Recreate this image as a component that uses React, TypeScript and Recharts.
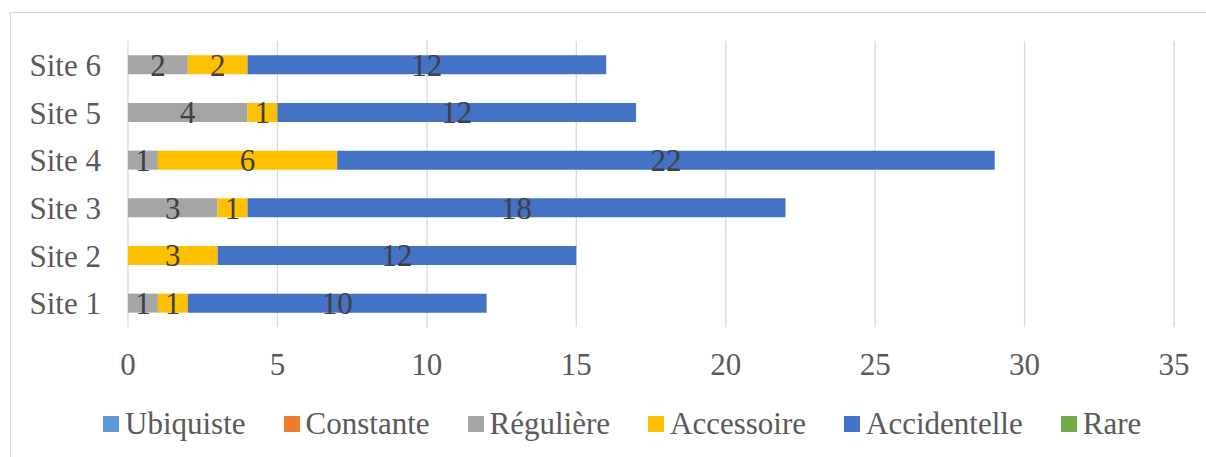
import React from 'react';
import { BarChart, Bar, XAxis, YAxis, CartesianGrid, LabelList } from 'recharts';

// Number of species per frequency class, by site
const sites = ['Site 1', 'Site 2', 'Site 3', 'Site 4', 'Site 5', 'Site 6'];
const ubiquiste = [0, 0, 0, 0, 0, 0];
const constante = [0, 0, 0, 0, 0, 0];
const reguliere = [1, 0, 3, 1, 4, 2];
const accessoire = [1, 3, 1, 6, 1, 2];
const accidentelle = [10, 12, 18, 22, 12, 12];
const rare = [0, 0, 0, 0, 0, 0];

const xTicks = [0, 5, 10, 15, 20, 25, 30, 35];

const series = [
  { key: 'ubiquiste', name: 'Ubiquiste', color: '#5B9BD5', values: ubiquiste },
  { key: 'constante', name: 'Constante', color: '#ED7D31', values: constante },
  { key: 'reguliere', name: 'Régulière', color: '#A5A5A5', values: reguliere },
  { key: 'accessoire', name: 'Accessoire', color: '#FFC000', values: accessoire },
  { key: 'accidentelle', name: 'Accidentelle', color: '#4472C4', values: accidentelle },
  { key: 'rare', name: 'Rare', color: '#70AD47', values: rare },
];

const data = sites.map((site, i) => {
  const row: Record<string, string | number> = { site };
  series.forEach((s) => {
    row[s.key] = s.values[i];
  });
  return row;
});

const FONT = '"Liberation Serif", "Times New Roman", serif';
const AXIS_COLOR = '#595959';
const LABEL_COLOR = '#404040';
const GRID_COLOR = '#D9D9D9';

const hideZero = (v: any) => (v ? v : '');

export default function App() {
  return (
    <div
      style={{
        position: 'absolute',
        left: 0,
        top: 0,
        width: 1206,
        height: 457,
        overflow: 'hidden',
        background: '#fff',
      }}
    >
      <div
        style={{
          position: 'absolute',
          left: 10,
          top: 12,
          width: 1300,
          height: 600,
          border: `1px solid ${GRID_COLOR}`,
          boxSizing: 'border-box',
        }}
      />
      <div style={{ position: 'absolute', left: 0, top: 0 }}>
        <BarChart
          width={1206}
          height={457}
          data={data}
          layout="vertical"
          margin={{ top: 41, right: 32, left: 0, bottom: 90 }}
          barCategoryGap="30%"
        >
          <CartesianGrid horizontal={false} stroke={GRID_COLOR} strokeWidth={1.3} />
          <XAxis
            type="number"
            domain={[0, 35]}
            ticks={xTicks}
            interval={0}
            axisLine={false}
            tickLine={false}
            tickSize={0}
            tickMargin={26}
            height={40}
            tick={{ fill: AXIS_COLOR, fontSize: 31, fontFamily: FONT }}
          />
          <YAxis
            type="category"
            dataKey="site"
            reversed
            width={128}
            axisLine={false}
            tickLine={false}
            tickSize={0}
            tickMargin={27}
            tick={{ fill: AXIS_COLOR, fontSize: 31, fontFamily: FONT }}
          />
          {series.map((s) => (
            <Bar
              key={s.key}
              dataKey={s.key}
              name={s.name}
              stackId="a"
              fill={s.color}
              isAnimationActive={false}
            >
              <LabelList
                dataKey={s.key}
                position="center"
                formatter={hideZero}
                fill={LABEL_COLOR}
                fontSize={31}
                fontFamily={FONT}
              />
            </Bar>
          ))}
        </BarChart>
      </div>
      <div
        style={{
          position: 'absolute',
          left: 103,
          top: 406,
          height: 36,
          display: 'flex',
          alignItems: 'center',
          fontFamily: FONT,
          fontSize: 31,
          lineHeight: '36px',
          color: AXIS_COLOR,
          whiteSpace: 'nowrap',
        }}
      >
        {series.map((s) => (
          <div key={s.key} style={{ display: 'flex', alignItems: 'center', marginRight: 38 }}>
            <span
              style={{
                display: 'inline-block',
                width: 16,
                height: 16,
                background: s.color,
                marginRight: 6,
              }}
            />
            <span>{s.name}</span>
          </div>
        ))}
      </div>
    </div>
  );
}
